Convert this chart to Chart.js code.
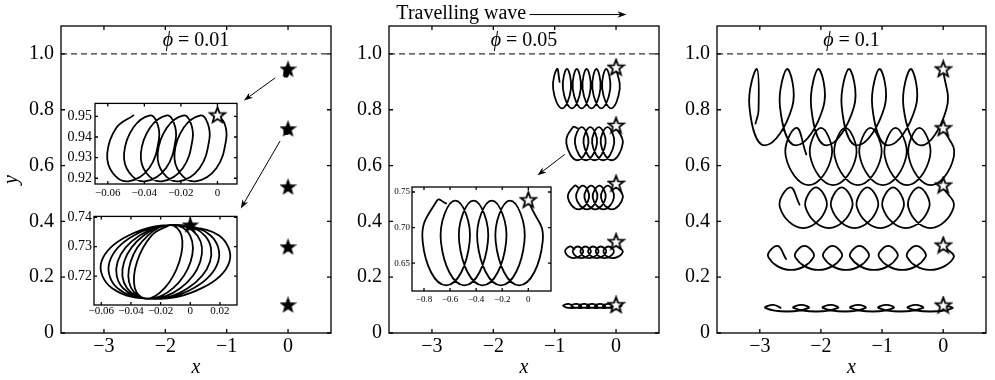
<!DOCTYPE html>
<html>
<head>
<meta charset="utf-8">
<script src="https://cdn.jsdelivr.net/npm/chart.js@4.4.0/dist/chart.umd.min.js"></script>
<style>
  html, body { margin: 0; padding: 0; background: #fff; }
  #wrap { position: relative; width: 995px; height: 380px; overflow: hidden; }
  canvas { position: absolute; }
</style>
</head>
<body>
<div id="wrap">
  <canvas id="p1" width="340" height="380" style="left:0;top:0"></canvas>
  <canvas id="p2" width="328" height="380" style="left:340px;top:0"></canvas>
  <canvas id="p3" width="327" height="380" style="left:668px;top:0"></canvas>
  <canvas id="in1" width="188" height="114" style="left:58px;top:92px"></canvas>
  <canvas id="in2" width="188" height="116" style="left:58px;top:206px"></canvas>
  <canvas id="in3" width="175" height="130" style="left:385px;top:178px"></canvas>
</div>
<script>
// axes of the three main panels
const xTicksMain = [-3, -2, -1, 0];
const yTicksMain = [0, 0.2, 0.4, 0.6, 0.8, 1.0];
const xRangeMain = [-3.7, 0.7];
const yRangeMain = [0, 1.1];
const surfaceY = 1.0;
const phiLabels = ['0.01', '0.05', '0.1'];

// starting positions (stars) at x = 0
const starsPhi001 = [0.946, 0.732, 0.524, 0.309, 0.101];
const starsPhi005 = [0.952, 0.744, 0.536, 0.327, 0.101];
const starsPhi01 = [0.946, 0.735, 0.53, 0.315, 0.10];

// phi = 0.01 paths (only visible at full size in the insets)
const pathA1 = [
  [0, 0.9505], [0.0038, 0.9468], [0.0048, 0.939], [-0.0005, 0.925],
  [-0.012, 0.9185], [-0.0205, 0.9225], [-0.0235, 0.932], [-0.0185, 0.9445],
  [-0.0092, 0.9505], [-0.0054, 0.9468], [-0.0044, 0.939], [-0.0097, 0.925],
  [-0.0212, 0.9185], [-0.0297, 0.9225], [-0.0327, 0.932], [-0.0277, 0.9445],
  [-0.0184, 0.9505], [-0.0146, 0.9468], [-0.0136, 0.939], [-0.0189, 0.925],
  [-0.0304, 0.9185], [-0.0389, 0.9225], [-0.0419, 0.932], [-0.0369, 0.9445],
  [-0.0276, 0.9505], [-0.0238, 0.9468], [-0.0228, 0.939], [-0.0281, 0.925],
  [-0.0396, 0.9185], [-0.0481, 0.9225], [-0.0511, 0.932], [-0.0461, 0.9445],
  [-0.0368, 0.9505], [-0.033, 0.9468], [-0.032, 0.939], [-0.0373, 0.925],
  [-0.0488, 0.9185], [-0.0573, 0.9225], [-0.0603, 0.932], [-0.0553, 0.9445],
  [-0.046, 0.9505]
];
const pathA2 = [
  [-0.0088, 0.7374], [0.0194, 0.7338], [0.0264, 0.7249], [0.0081, 0.716],
  [-0.0248, 0.7123], [-0.0529, 0.716], [-0.0599, 0.7249], [-0.0416, 0.7338],
  [-0.0098, 0.7374], [0.0137, 0.7338], [0.0188, 0.7249], [0.0024, 0.716],
  [-0.0258, 0.7123], [-0.0493, 0.716], [-0.0544, 0.7249], [-0.038, 0.7338],
  [-0.0099, 0.7374], [0.0098, 0.7338], [0.0133, 0.7249], [-0.0015, 0.716],
  [-0.0259, 0.7123], [-0.0455, 0.716], [-0.049, 0.7249], [-0.0342, 0.7338],
  [-0.011, 0.7374], [0.0048, 0.7338], [0.0067, 0.7249], [-0.0065, 0.716],
  [-0.027, 0.7123], [-0.0427, 0.716], [-0.0446, 0.7249], [-0.0314, 0.7338],
  [-0.012, 0.7374], [-0.0001, 0.7338], [0.0002, 0.7249], [-0.0114, 0.716],
  [-0.028, 0.7123], [-0.0399, 0.716], [-0.0402, 0.7249], [-0.0286, 0.7338],
  [-0.0137, 0.7374], [-0.0059, 0.7338], [-0.0074, 0.7249], [-0.0172, 0.716],
  [-0.0297, 0.7123], [-0.0374, 0.716], [-0.0359, 0.7249], [-0.0261, 0.7338],
  [-0.014, 0.7374]
];

// phi = 0.05 paths
const pathB1 = [
  [0, 0.948], [0.06, 0.875], [-0.08, 0.805], [-0.225, 0.875],
  [-0.16, 0.946], [-0.095, 0.875], [-0.24, 0.805], [-0.385, 0.875],
  [-0.32, 0.946], [-0.255, 0.875], [-0.40, 0.805], [-0.545, 0.875],
  [-0.48, 0.946], [-0.415, 0.875], [-0.56, 0.805], [-0.705, 0.875],
  [-0.64, 0.946], [-0.575, 0.875], [-0.72, 0.805], [-0.865, 0.875],
  [-0.80, 0.946], [-0.735, 0.875], [-0.88, 0.805], [-1.025, 0.875],
  [-0.96, 0.946], [-0.92, 0.90]
];
const pathB2 = [
  [0, 0.738], [0.11, 0.68], [-0.07, 0.619], [-0.25, 0.68],
  [-0.14, 0.738], [-0.03, 0.68], [-0.21, 0.619], [-0.39, 0.68],
  [-0.28, 0.738], [-0.17, 0.68], [-0.35, 0.619], [-0.53, 0.68],
  [-0.42, 0.738], [-0.31, 0.68], [-0.49, 0.619], [-0.67, 0.68],
  [-0.56, 0.738], [-0.45, 0.68], [-0.63, 0.619], [-0.81, 0.68],
  [-0.70, 0.738], [-0.63, 0.734]
];
const pathB3 = [
  [0, 0.53], [0.11, 0.485], [-0.07, 0.443], [-0.245, 0.485],
  [-0.135, 0.528], [-0.035, 0.485], [-0.205, 0.443], [-0.38, 0.485],
  [-0.27, 0.528], [-0.17, 0.485], [-0.34, 0.443], [-0.515, 0.485],
  [-0.405, 0.528], [-0.305, 0.485], [-0.475, 0.443], [-0.65, 0.485],
  [-0.54, 0.528], [-0.44, 0.485], [-0.61, 0.443], [-0.785, 0.485],
  [-0.675, 0.528], [-0.61, 0.52]
];
const pathB4 = [
  [0, 0.315], [0.11, 0.29], [-0.065, 0.268], [-0.205, 0.29],
  [-0.125, 0.31], [-0.035, 0.29], [-0.19, 0.268], [-0.33, 0.29],
  [-0.25, 0.31], [-0.16, 0.29], [-0.315, 0.268], [-0.455, 0.29],
  [-0.375, 0.31], [-0.285, 0.29], [-0.44, 0.268], [-0.58, 0.29],
  [-0.50, 0.31], [-0.41, 0.29], [-0.565, 0.268], [-0.705, 0.29],
  [-0.625, 0.31], [-0.535, 0.29], [-0.69, 0.268], [-0.83, 0.29],
  [-0.75, 0.31], [-0.68, 0.30]
];
const pathB5 = [
  [0, 0.104], [0.09, 0.097], [-0.065, 0.089], [-0.21, 0.097],
  [-0.13, 0.104], [-0.05, 0.097], [-0.195, 0.089], [-0.34, 0.097],
  [-0.26, 0.104], [-0.18, 0.097], [-0.325, 0.089], [-0.47, 0.097],
  [-0.39, 0.104], [-0.31, 0.097], [-0.455, 0.089], [-0.60, 0.097],
  [-0.52, 0.104], [-0.44, 0.097], [-0.585, 0.089], [-0.73, 0.097],
  [-0.65, 0.104], [-0.57, 0.097], [-0.715, 0.089], [-0.86, 0.097],
  [-0.78, 0.104], [-0.72, 0.100]
];

// phi = 0.1 paths
const pathC1 = [
  [0, 0.946], [0.05, 0.80], [-0.37, 0.672], [-0.65, 0.81],
  [-0.53, 0.946], [-0.45, 0.81], [-0.90, 0.672], [-1.16, 0.81],
  [-1.04, 0.946], [-0.96, 0.81], [-1.41, 0.672], [-1.66, 0.81],
  [-1.54, 0.946], [-1.46, 0.81], [-1.91, 0.672], [-2.16, 0.81],
  [-2.04, 0.946], [-1.96, 0.81], [-2.41, 0.672], [-2.67, 0.81],
  [-2.55, 0.946], [-2.47, 0.81], [-2.92, 0.672], [-3.17, 0.81],
  [-3.05, 0.946], [-3.02, 0.80], [-3.07, 0.75]
];
const pathC2 = [
  [0, 0.735], [0.175, 0.633], [-0.20, 0.53], [-0.565, 0.633],
  [-0.39, 0.735], [-0.215, 0.633], [-0.59, 0.53], [-0.955, 0.633],
  [-0.78, 0.735], [-0.605, 0.633], [-0.985, 0.53], [-1.365, 0.633],
  [-1.19, 0.735], [-1.015, 0.633], [-1.395, 0.53], [-1.775, 0.633],
  [-1.60, 0.735], [-1.425, 0.633], [-1.80, 0.53], [-2.175, 0.633],
  [-2.00, 0.735], [-1.825, 0.633], [-2.20, 0.53], [-2.575, 0.633],
  [-2.40, 0.735], [-2.24, 0.64]
];
const pathC3 = [
  [0, 0.522], [0.17, 0.45], [-0.21, 0.376], [-0.57, 0.45],
  [-0.40, 0.522], [-0.23, 0.45], [-0.61, 0.376], [-0.99, 0.45],
  [-0.82, 0.522], [-0.65, 0.45], [-1.03, 0.376], [-1.41, 0.45],
  [-1.24, 0.522], [-1.07, 0.45], [-1.45, 0.376], [-1.83, 0.45],
  [-1.66, 0.522], [-1.49, 0.45], [-1.87, 0.376], [-2.25, 0.45],
  [-2.08, 0.522], [-1.91, 0.45], [-2.29, 0.376], [-2.67, 0.45],
  [-2.50, 0.522], [-2.35, 0.46]
];
const pathC4 = [
  [0, 0.312], [0.17, 0.27], [-0.22, 0.226], [-0.59, 0.272],
  [-0.44, 0.312], [-0.29, 0.272], [-0.67, 0.226], [-1.05, 0.272],
  [-0.90, 0.312], [-0.75, 0.272], [-1.13, 0.226], [-1.52, 0.272],
  [-1.37, 0.312], [-1.22, 0.272], [-1.59, 0.226], [-1.96, 0.272],
  [-1.81, 0.312], [-1.66, 0.272], [-2.04, 0.226], [-2.42, 0.272],
  [-2.27, 0.312], [-2.12, 0.272], [-2.49, 0.226], [-2.86, 0.272],
  [-2.71, 0.312], [-2.57, 0.265]
];
const pathC5 = [
  [0, 0.101], [0.15, 0.089], [-0.22, 0.077], [-0.58, 0.09],
  [-0.45, 0.101], [-0.33, 0.09], [-0.70, 0.077], [-1.06, 0.09],
  [-0.93, 0.101], [-0.81, 0.09], [-1.15, 0.077], [-1.52, 0.09],
  [-1.39, 0.101], [-1.27, 0.09], [-1.61, 0.077], [-1.97, 0.09],
  [-1.84, 0.101], [-1.72, 0.09], [-2.08, 0.077], [-2.45, 0.09],
  [-2.32, 0.101], [-2.20, 0.09], [-2.55, 0.077], [-2.91, 0.09],
  [-2.78, 0.101], [-2.66, 0.09]
];

// insets
const inset1X = [-0.06, -0.04, -0.02, 0];
const inset1Y = [0.92, 0.93, 0.94, 0.95];
const inset2X = [-0.06, -0.04, -0.02, 0, 0.02];
const inset2Y = [0.72, 0.73, 0.74];
const inset3X = [-0.8, -0.6, -0.4, -0.2, 0];
const inset3Y = [0.65, 0.70, 0.75];

const SERIF = '"Liberation Serif", "Times New Roman", "DejaVu Serif", serif';
Chart.defaults.font.family = SERIF;
Chart.defaults.color = '#000';

// 5-pointed star marker
function starImage(fill, size, lw) {
  const c = document.createElement('canvas');
  c.width = c.height = size;
  const g = c.getContext('2d');
  const cx = size / 2, cy = size / 2 + 0.6;
  const R = size / 2 - 1.3, r = R * 0.42;
  g.beginPath();
  for (let i = 0; i < 10; i++) {
    const a = -Math.PI / 2 + i * Math.PI / 5;
    const rad = i % 2 ? r : R;
    g.lineTo(cx + rad * Math.cos(a), cy + rad * Math.sin(a));
  }
  g.closePath();
  g.fillStyle = fill;
  g.fill();
  g.lineWidth = lw;
  g.strokeStyle = '#000';
  g.stroke();
  return c;
}
const starOpen = starImage('#fff', 19, 1.8);
const starSolid = starImage('#000', 17, 1.4);

const minus = v => (v < 0 ? '\u2212' : '');
const fmtMainX = v => minus(v) + Math.abs(v);
const fmtMainY = v => (v === 0 ? '0' : v.toFixed(1));

function arrow(ctx, x1, y1, x2, y2) {
  const a = Math.atan2(y2 - y1, x2 - x1), L = 9, W = 3.2;
  const c = Math.cos(a), s = Math.sin(a);
  ctx.beginPath();
  ctx.moveTo(x1, y1);
  ctx.lineTo(x2 - L * 0.7 * c, y2 - L * 0.7 * s);
  ctx.stroke();
  ctx.beginPath();
  ctx.moveTo(x2, y2);
  ctx.lineTo(x2 - L * c + W * s, y2 - L * s - W * c);
  ctx.lineTo(x2 - L * 0.7 * c, y2 - L * 0.7 * s);
  ctx.lineTo(x2 - L * c - W * s, y2 - L * s + W * c);
  ctx.closePath();
  ctx.fill();
}

// box, inward ticks, arrows and texts
const framePlugin = {
  id: 'frame',
  beforeDatasetsDraw(chart, args, opts) {
    if (!opts.whiteArea) return;
    const a = chart.chartArea;
    chart.ctx.save();
    chart.ctx.fillStyle = '#fff';
    chart.ctx.fillRect(a.left, a.top, a.right - a.left, a.bottom - a.top);
    chart.ctx.restore();
  },
  afterDatasetsDraw(chart, args, opts) {
    const { ctx, chartArea: a, scales: { x, y } } = chart;
    ctx.save();
    ctx.strokeStyle = '#000';
    ctx.fillStyle = '#000';
    ctx.lineWidth = opts.lineWidth || 1;
    ctx.strokeRect(a.left, a.top, a.right - a.left, a.bottom - a.top);
    const t = opts.tick || 4;
    ctx.beginPath();
    x.ticks.forEach(tk => {
      const p = x.getPixelForValue(tk.value);
      ctx.moveTo(p, a.bottom); ctx.lineTo(p, a.bottom - t);
      ctx.moveTo(p, a.top); ctx.lineTo(p, a.top + t);
    });
    y.ticks.forEach(tk => {
      const p = y.getPixelForValue(tk.value);
      ctx.moveTo(a.left, p); ctx.lineTo(a.left + t, p);
      ctx.moveTo(a.right, p); ctx.lineTo(a.right - t, p);
    });
    ctx.stroke();

    ctx.lineWidth = 1;
    (opts.arrows || []).forEach(ar => {
      arrow(ctx, x.getPixelForValue(ar.from[0]), y.getPixelForValue(ar.from[1]),
        x.getPixelForValue(ar.to[0]), y.getPixelForValue(ar.to[1]));
    });

    (opts.texts || []).forEach(tx => {
      ctx.textBaseline = 'middle';
      const widths = tx.parts.map(p => {
        ctx.font = (p.italic ? 'italic ' : '') + tx.size + 'px ' + SERIF;
        return ctx.measureText(p.t).width;
      });
      const total = widths.reduce((s, w) => s + w, 0);
      let px = tx.x === 'center' ? (a.left + a.right) / 2 - total / 2 : x.getPixelForValue(tx.x);
      const py = y.getPixelForValue(tx.y);
      tx.parts.forEach((p, i) => {
        ctx.font = (p.italic ? 'italic ' : '') + tx.size + 'px ' + SERIF;
        ctx.fillText(p.t, px, py);
        px += widths[i];
      });
    });
    ctx.restore();
  }
};

const toPts = arr => arr.map(([x, y]) => ({ x, y }));
const pathSet = (arr, w, tension) => ({
  data: toPts(arr), showLine: true, borderColor: '#000', borderWidth: w,
  pointRadius: 0, tension, borderJoinStyle: 'round', borderCapStyle: 'round'
});
const starSet = (pts, img) => ({
  data: toPts(pts), showLine: false, pointStyle: img, pointRadius: 8
});

function mainChart(id, o) {
  const datasets = [
    starSet(o.stars.map(v => [0, v]), o.starImg),
    ...o.paths.map(p => pathSet(p, 1.8, 0.45)),
    {
      data: [{ x: xRangeMain[0], y: surfaceY }, { x: xRangeMain[1], y: surfaceY }],
      showLine: true, borderColor: '#000', borderWidth: 1, borderDash: [6, 4], pointRadius: 0
    }
  ];
  return new Chart(document.getElementById(id), {
    type: 'scatter',
    data: { datasets },
    options: {
      responsive: false, animation: false, events: [], devicePixelRatio: 1,
      layout: { padding: { top: 26, right: o.padRight, left: 0, bottom: 0 } },
      plugins: {
        legend: { display: false }, tooltip: { enabled: false },
        frame: {
          lineWidth: 1.3, tick: 4, arrows: o.arrows || [],
          texts: [{ x: 'center', y: 1.047, size: 20, parts: [{ t: '\u03D5', italic: true }, { t: ' = ' + o.phi }] }]
            .concat(o.texts || [])
        }
      },
      scales: {
        x: {
          type: 'linear', min: xRangeMain[0], max: xRangeMain[1],
          afterBuildTicks: s => { s.ticks = xTicksMain.map(v => ({ value: v })); },
          afterFit: s => { s.height = 47; },
          grid: { display: false, drawTicks: false }, border: { display: false },
          ticks: { padding: 2, font: { size: 20 }, callback: fmtMainX },
          title: { display: true, text: 'x', font: { size: 20, style: 'italic' }, padding: 0 }
        },
        y: {
          type: 'linear', min: yRangeMain[0], max: yRangeMain[1],
          afterBuildTicks: s => { s.ticks = yTicksMain.map(v => ({ value: v })); },
          afterFit: s => { s.width = o.yWidth; },
          grid: { display: false, drawTicks: false }, border: { display: false },
          ticks: { padding: 7, font: { size: 20 }, callback: fmtMainY },
          title: { display: !!o.yTitle, text: 'y', font: { size: 20, style: 'italic' }, padding: 0 }
        }
      }
    },
    plugins: [framePlugin]
  });
}

function insetChart(id, o) {
  return new Chart(document.getElementById(id), {
    type: 'scatter',
    data: { datasets: [starSet([o.star], o.starImg), pathSet(o.path, 1.8, o.tension)] },
    options: {
      responsive: false, animation: false, events: [], devicePixelRatio: 1,
      layout: { padding: { top: o.padTop, right: o.padRight, left: 0, bottom: 0 } },
      plugins: {
        legend: { display: false }, tooltip: { enabled: false },
        frame: { whiteArea: true, lineWidth: 1.3, tick: 3 }
      },
      scales: {
        x: {
          type: 'linear', min: o.xRange[0], max: o.xRange[1],
          afterBuildTicks: s => { s.ticks = o.xTicks.map(v => ({ value: v })); },
          afterFit: s => { s.height = o.xHeight; },
          grid: { display: false, drawTicks: false }, border: { display: false },
          ticks: { padding: o.padX, font: { size: o.fontX }, callback: o.fmtX }
        },
        y: {
          type: 'linear', min: o.yRange[0], max: o.yRange[1],
          afterBuildTicks: s => { s.ticks = o.yTicks.map(v => ({ value: v })); },
          afterFit: s => { s.width = o.yWidth; },
          grid: { display: false, drawTicks: false }, border: { display: false },
          ticks: { padding: o.padY, font: { size: o.fontY }, callback: o.fmtY }
        }
      }
    },
    plugins: [framePlugin]
  });
}

mainChart('p1', {
  phi: phiLabels[0], stars: starsPhi001, starImg: starSolid, paths: [pathA1, pathA2],
  yWidth: 61, padRight: 4, yTitle: true,
  arrows: [
    { from: [-0.21, 0.914], to: [-0.72, 0.833] },
    { from: [-0.13, 0.688], to: [-0.77, 0.446] }
  ]
});
mainChart('p2', {
  phi: phiLabels[1], stars: starsPhi005, starImg: starOpen,
  paths: [pathB1, pathB2, pathB3, pathB4, pathB5],
  yWidth: 49, padRight: 3,
  arrows: [
    { from: [-0.835, 0.640], to: [-1.28, 0.565] },
    { from: [-1.41, 1.141], to: [0.17, 1.141] }
  ],
  texts: [{ x: -3.58, y: 1.144, size: 20, parts: [{ t: 'Travelling wave' }] }]
});
mainChart('p3', {
  phi: phiLabels[2], stars: starsPhi01, starImg: starOpen,
  paths: [pathC1, pathC2, pathC3, pathC4, pathC5],
  yWidth: 49, padRight: 2
});

const fmt2 = v => (v === 0 ? '0' : minus(v) + Math.abs(v).toFixed(2));
const fmt1 = v => (v === 0 ? '0' : minus(v) + Math.abs(v).toFixed(1));

insetChart('in1', {
  path: pathA1, star: [0, 0.9507], starImg: starOpen, tension: 0.4,
  xRange: [-0.067, 0.0107], yRange: [0.9172, 0.9563], xTicks: inset1X, yTicks: inset1Y,
  yWidth: 37, xHeight: 22, padTop: 3.7, padRight: 6,
  fontX: 11, fontY: 14, padX: 3, padY: 3, fmtX: fmt2, fmtY: v => v.toFixed(2)
});
insetChart('in2', {
  path: pathA2, star: [0, 0.7374], starImg: starSolid, tension: 0.4,
  xRange: [-0.0649, 0.0315], yRange: [0.7102, 0.7403], xTicks: inset2X, yTicks: inset2Y,
  yWidth: 36, xHeight: 17, padTop: 4.7, padRight: 5,
  fontX: 11, fontY: 14, padX: 0, padY: 2, fmtX: fmt2, fmtY: v => v.toFixed(2)
});
insetChart('in3', {
  path: pathB2, star: [0, 0.739], starImg: starOpen, tension: 0.5,
  xRange: [-0.892, 0.174], yRange: [0.611, 0.757], xTicks: inset3X, yTicks: inset3Y,
  yWidth: 27, xHeight: 17, padTop: 3.7, padRight: 5,
  fontX: 9, fontY: 9, padX: 3, padY: 2, fmtX: fmt1, fmtY: v => v.toFixed(2)
});
</script>
</body>
</html>
